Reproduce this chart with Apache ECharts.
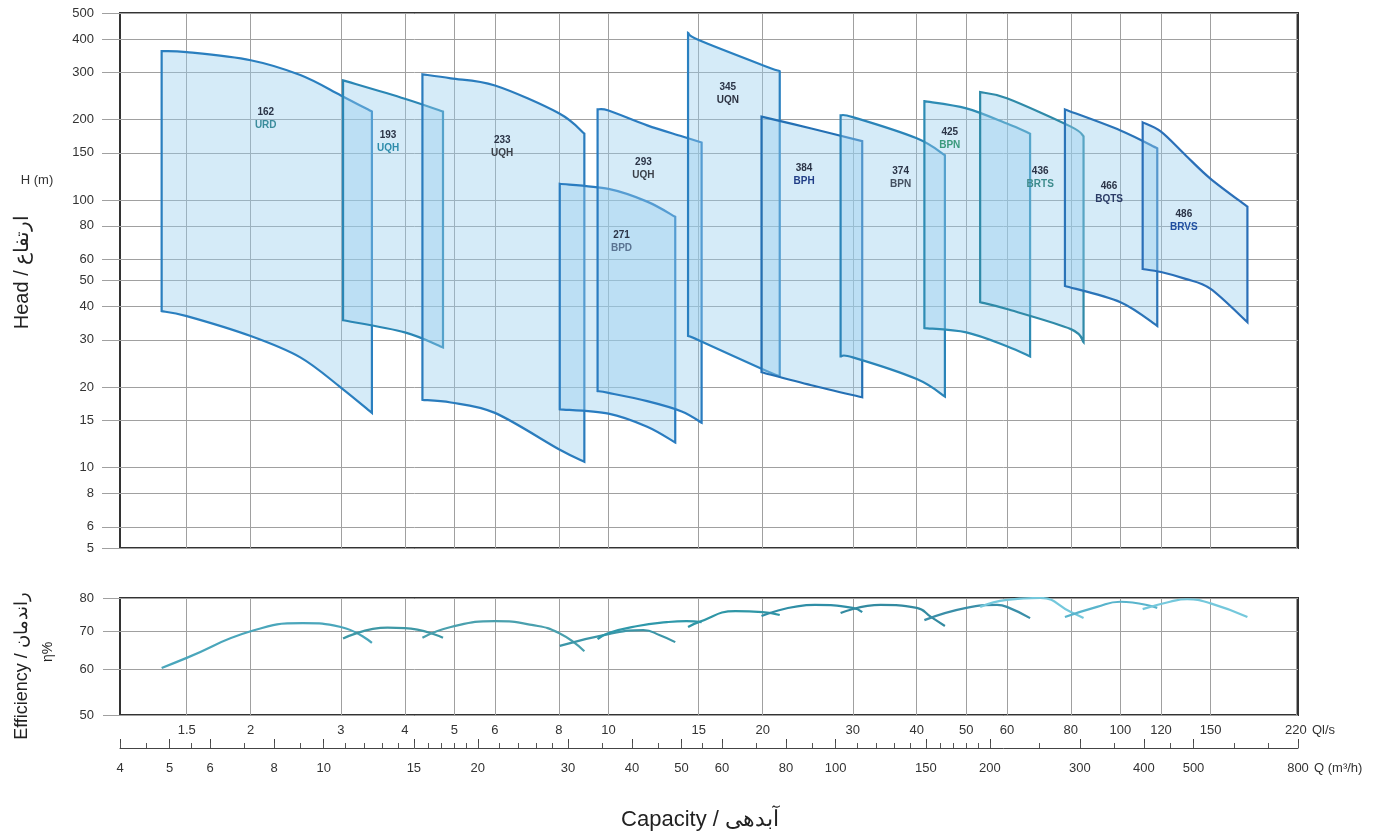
<!DOCTYPE html>
<html><head><meta charset="utf-8">
<script src="https://cdn.jsdelivr.net/npm/echarts@6/dist/echarts.min.js"></script>
<style>html,body{margin:0;padding:0;background:#fff}#c{width:1400px;height:839px}</style>
</head><body><div id="c"></div>
<script>
// ---- axis ticks ----
const qTicksLs = [1.5, 2, 3, 4, 5, 6, 8, 10, 15, 20, 30, 40, 50, 60, 80, 100, 120, 150, 220];
const qTicksM3h = [4, 5, 6, 8, 10, 15, 20, 30, 40, 50, 60, 80, 100, 150, 200, 300, 400, 500, 800];
const qMinorM3h = [4, 4.5, 5, 5.5, 6, 7, 8, 9, 10, 11, 12, 13, 14, 15, 16, 17, 18, 19, 20, 22, 24, 26, 28, 30, 35, 40, 45, 50, 55, 60, 70, 80, 90, 100, 110, 120, 130, 140, 150, 160, 170, 180, 190, 200, 250, 300, 350, 400, 450, 500, 600, 700, 800];
const headTicks = [5, 6, 8, 10, 15, 20, 30, 40, 50, 60, 80, 100, 150, 200, 300, 400, 500];
const effTicks = [50, 60, 70, 80];

// ---- pump families ----
const pumpNames = ['162', '193', '233', '271', '293', '345', '384', '374', '425', '436', '466', '486'];
const pumpTypes = ['URD', 'UQH', 'UQH', 'BPD', 'UQH', 'UQN', 'BPH', 'BPN', 'BPN', 'BRTS', 'BQTS', 'BRVS'];
// max-impeller head curves [Q l/s, H m]
const pumpTop = [
  [[1.34, 360], [1.5, 357], [2, 333], [2.5, 293], [3, 246], [3.45, 214]],
  [[3.03, 280], [4, 239], [4.75, 214]],
  [[4.33, 295], [4.92, 285], [6, 268], [8, 211], [8.97, 177]],
  [[8.03, 115], [10, 110], [11.9, 98.6], [13.5, 86.5]],
  [[9.52, 218], [10, 216], [11.9, 190], [13.9, 173], [15.2, 164]],
  [[14.3, 421], [15, 396], [20, 319], [21.6, 303]],
  [[19.9, 205], [24.9, 185], [31.3, 166]],
  [[28.4, 207], [30, 204], [40, 170], [45.4, 147]],
  [[41.4, 234], [50, 220], [60, 193], [66.6, 177]],
  [[53.2, 253], [60, 240], [80, 188], [84.7, 173]],
  [[77.9, 218], [100, 182], [118, 156]],
  [[110.5, 195], [120, 180], [134, 147], [150, 120], [177, 94.4]]
];
// min-impeller head curves [Q l/s, H m]
const pumpBottom = [
  [[1.34, 38.4], [1.5, 36.8], [2, 31], [2.5, 25.8], [3, 19.9], [3.45, 16]],
  [[3.03, 35.5], [4, 32], [4.75, 28.1]],
  [[4.33, 17.9], [4.92, 17.5], [6, 16.0], [8, 11.7], [8.97, 10.5]],
  [[8.03, 16.5], [10, 15.9], [11.9, 14.2], [13.5, 12.4]],
  [[9.52, 19.3], [10, 19.0], [11.9, 17.7], [13.9, 16.2], [15.2, 14.7]],
  [[14.3, 31], [15, 29.9], [20, 23.3], [21.6, 21.9]],
  [[19.9, 22.7], [24.9, 20.3], [31.3, 18.3]],
  [[28.4, 26], [30, 25.8], [40, 21.4], [45.4, 18.4]],
  [[41.4, 33.2], [50, 32], [60, 28.4], [66.6, 26]],
  [[53.2, 41.5], [60, 39.1], [80, 32.9], [84.7, 29.4]],
  [[77.9, 47.7], [100, 41.5], [118, 33.8]],
  [[110.5, 55.2], [120, 53.8], [134, 50.7], [150, 46.5], [177, 34.9]]
];
// efficiency curves [Q l/s, eta %]
const pumpEff = [
  [[1.34, 60.4], [1.5, 62.9], [2, 70], [2.53, 72.3], [3, 71.2], [3.45, 66.8]],
  [[3.03, 68.0], [3.7, 71.0], [4, 70.9], [4.75, 68.2]],
  [[4.33, 68.2], [4.92, 71.2], [6, 72.9], [7.08, 71.8], [8, 69.5], [8.97, 64.6]],
  [[8.03, 66.0], [10, 69.2], [11.7, 70.3], [12.6, 68.9], [13.5, 67.0]],
  [[9.52, 67.8], [10, 69.5], [11.4, 71.5], [13, 72.6], [14.2, 72.9], [15.2, 72.6]],
  [[14.3, 71.2], [15, 72.6], [17.7, 75.9], [20, 75.6], [21.6, 74.7]],
  [[19.9, 74.4], [25.3, 77.8], [30, 76.9], [31.3, 75.6]],
  [[28.4, 75.3], [34, 77.8], [40, 76.9], [42.7, 74.1], [45.4, 71.5]],
  [[41.4, 73.2], [50, 76.9], [57.4, 77.8], [60, 77.2], [66.6, 73.8]],
  [[53.2, 77.2], [60, 79.4], [69.7, 80], [80, 75.6], [84.7, 73.8]],
  [[77.9, 74.1], [90, 77.2], [100, 78.8], [118, 76.9]],
  [[110.5, 76.5], [125, 78.8], [135, 79.6], [150, 78.3], [177, 74.1]]
];
// label anchor inside each family [Q l/s, H m]
const labelAt = [[2.14, 202], [3.71, 165], [6.2, 158], [10.6, 69.7], [11.7, 131], [17.1, 250], [24.1, 124], [37.2, 121], [46.4, 170], [69.7, 121], [95, 106], [133, 83.6]];

// ---- styles ----
const FONT = '"Liberation Sans", Arial, sans-serif';
const strokeCols = ['#2a7fbf', '#2a86b4', '#2a7cbd', '#2a7cc0', '#2a7cc0', '#2a80c0', '#2470b4', '#2a84b8', '#2e8cb4', '#2f8aa8', '#2a74b8', '#2a6fb8'];
const effCols = ['#4aa6bb', '#3e98a6', '#4aa0ae', '#3c96a8', '#2f98aa', '#2f96a6', '#2f8ea6', '#338aa0', '#3a8ea8', '#74c8dc', '#58b4cc', '#74c8dc'];
const typeCols = ['#3b8c9c', '#2d8cab', '#3a3f48', '#5a7391', '#3a3f48', '#2b3140', '#1f3c86', '#445060', '#3b9a7c', '#3d8b8c', '#2b3b66', '#1f4ea0'];
const LS_MIN = 4 / 3.6, LS_MAX = 800 / 3.6;

function spline(pts) {
  let d = '';
  for (let i = 0; i < pts.length - 1; i++) {
    const p0 = pts[i - 1] || pts[i], p1 = pts[i], p2 = pts[i + 1], p3 = pts[i + 2] || p2;
    const c1 = [p1[0] + (p2[0] - p0[0]) / 6, p1[1] + (p2[1] - p0[1]) / 6];
    const c2 = [p2[0] - (p3[0] - p1[0]) / 6, p2[1] - (p3[1] - p1[1]) / 6];
    d += ' C' + c1[0] + ',' + c1[1] + ' ' + c2[0] + ',' + c2[1] + ' ' + p2[0] + ',' + p2[1];
  }
  return d;
}
const fmt = v => String(Math.round(v * 10) / 10);

const chart = echarts.init(document.getElementById('c'), null, {renderer: 'canvas'});
const gridLine = {show: true, lineStyle: {color: '#a0a0a0', width: 1}};
const series = [];

series.push({
  type: 'custom', xAxisIndex: 0, yAxisIndex: 0, z: 3,
  data: pumpTop.map(c => c[0]),
  renderItem: (params, api) => {
    const i = params.dataIndex;
    const top = pumpTop[i].map(p => api.coord(p));
    const bot = pumpBottom[i].slice().reverse().map(p => api.coord(p));
    const d = 'M' + top[0][0] + ',' + top[0][1] + spline(top) +
      ' L' + bot[0][0] + ',' + bot[0][1] + spline(bot) + ' Z';
    return {
      type: 'path', shape: {pathData: d},
      style: {fill: 'rgba(150,205,238,0.40)', stroke: strokeCols[i], lineWidth: 2.2, lineJoin: 'miter'}
    };
  }
});

series.push({
  type: 'scatter', xAxisIndex: 0, yAxisIndex: 0, z: 5,
  symbolSize: 1, itemStyle: {opacity: 0},
  data: labelAt.map((v, i) => ({
    value: v,
    label: {rich: {t: {color: typeCols[i], fontSize: 10, fontFamily: FONT, fontWeight: 'bold', lineHeight: 13}}}
  })),
  label: {
    show: true, position: 'inside', opacity: 1,
    formatter: p => '{n|' + pumpNames[p.dataIndex] + '}\n{t|' + pumpTypes[p.dataIndex] + '}',
    rich: {
      n: {color: '#2b3447', fontSize: 10, fontFamily: FONT, fontWeight: 'bold', lineHeight: 13},
      t: {color: '#2f5f88', fontSize: 10, fontFamily: FONT, fontWeight: 'bold', lineHeight: 13}
    }
  }
});

pumpEff.forEach((c, i) => series.push({
  type: 'line', xAxisIndex: 1, yAxisIndex: 1, data: c, smooth: 0.5,
  symbol: 'none', lineStyle: {color: effCols[i], width: 2.2}, z: 4
}));

const labelStyle = {color: '#333', fontSize: 13, fontFamily: FONT};

chart.setOption({
  animation: false,
  backgroundColor: '#fff',
  grid: [
    {left: 120, top: 13, width: 1178, height: 535, show: true, borderColor: '#333', borderWidth: 2, backgroundColor: 'transparent'},
    {left: 120, top: 598, width: 1178, height: 117, show: true, borderColor: '#333', borderWidth: 2, backgroundColor: 'transparent'}
  ],
  xAxis: [
    {type: 'log', gridIndex: 0, min: LS_MIN, max: LS_MAX, axisLine: {show: false},
      axisTick: {show: false, customValues: qTicksLs}, axisLabel: {show: false, customValues: qTicksLs},
      splitLine: gridLine},
    {type: 'log', gridIndex: 1, min: LS_MIN, max: LS_MAX, axisLine: {show: false},
      axisTick: {show: false, customValues: qTicksLs},
      axisLabel: Object.assign({customValues: qTicksLs, margin: 9, formatter: fmt}, labelStyle),
      splitLine: gridLine},
    {type: 'log', gridIndex: 1, position: 'bottom', offset: 33, min: 4, max: 800,
      axisLine: {show: true, lineStyle: {color: '#444', width: 1}},
      axisTick: {show: true, inside: true, length: 9, customValues: qTicksM3h, lineStyle: {color: '#444'}},
      axisLabel: Object.assign({customValues: qTicksM3h, margin: 14, formatter: fmt}, labelStyle),
      splitLine: {show: false}},
    {type: 'log', gridIndex: 1, position: 'bottom', offset: 33, min: 4, max: 800,
      axisLine: {show: false},
      axisTick: {show: true, inside: true, length: 5, customValues: qMinorM3h, lineStyle: {color: '#555'}},
      axisLabel: {show: false, customValues: qTicksM3h},
      splitLine: {show: false}}
  ],
  yAxis: [
    {type: 'log', gridIndex: 0, min: 5, max: 500, axisLine: {show: false},
      axisTick: {show: true, length: 18, customValues: headTicks, lineStyle: {color: '#a0a0a0'}},
      axisLabel: Object.assign({customValues: headTicks, margin: 26, formatter: fmt}, labelStyle),
      splitLine: gridLine},
    {type: 'log', gridIndex: 1, min: 50, max: 80, axisLine: {show: false},
      axisTick: {show: true, length: 17, customValues: effTicks, lineStyle: {color: '#a0a0a0'}},
      axisLabel: Object.assign({customValues: effTicks, margin: 26, formatter: fmt}, labelStyle),
      splitLine: gridLine}
  ],
  series: series,
  graphic: [
    {type: 'text', x: 22, y: 272, rotation: Math.PI / 2,
      style: {text: 'Head / ارتفاع', font: '20px ' + FONT, fill: '#222', align: 'center', verticalAlign: 'middle', textAlign: 'center', textVerticalAlign: 'middle'}},
    {type: 'text', x: 37, y: 180,
      style: {text: 'H (m)', font: '13px ' + FONT, fill: '#333', align: 'center', verticalAlign: 'middle', textAlign: 'center', textVerticalAlign: 'middle'}},
    {type: 'text', x: 22, y: 666, rotation: Math.PI / 2,
      style: {text: 'Efficiency / راندمان', font: '18px ' + FONT, fill: '#222', align: 'center', verticalAlign: 'middle', textAlign: 'center', textVerticalAlign: 'middle'}},
    {type: 'text', x: 48, y: 652, rotation: Math.PI / 2,
      style: {text: 'η%', font: '14px ' + FONT, fill: '#222', align: 'center', verticalAlign: 'middle', textAlign: 'center', textVerticalAlign: 'middle'}},
    {type: 'text', x: 1312, y: 730,
      style: {text: 'Ql/s', font: '13px ' + FONT, fill: '#333', align: 'left', verticalAlign: 'middle', textAlign: 'left', textVerticalAlign: 'middle'}},
    {type: 'text', x: 1314, y: 768,
      style: {text: 'Q (m³/h)', font: '13px ' + FONT, fill: '#333', align: 'left', verticalAlign: 'middle', textAlign: 'left', textVerticalAlign: 'middle'}},
    {type: 'text', x: 700, y: 820,
      style: {text: 'Capacity / آبدهی', font: '22px ' + FONT, fill: '#222', align: 'center', verticalAlign: 'middle', textAlign: 'center', textVerticalAlign: 'middle'}}
  ]
});
</script>
</body></html>
